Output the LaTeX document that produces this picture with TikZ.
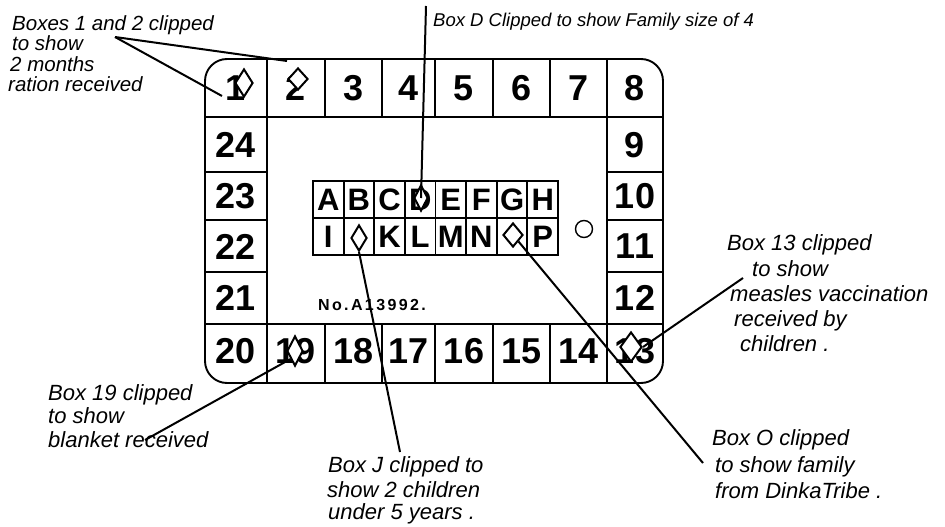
\documentclass[tikz,border=0pt]{standalone}
\usepackage{fontspec}
\setmainfont{Liberation Sans}
\newfontfamily\serialfont[LetterSpace=15]{Liberation Sans}
\usetikzlibrary{shapes.geometric}

\begin{document}
\begin{tikzpicture}[x=1pt,y=-1pt,
  card/.style={line width=1.9pt},
  num/.style={inner sep=0pt, font=\bfseries\fontsize{36}{36}\selectfont},
  letter/.style={inner sep=0pt, font=\bfseries\fontsize{31}{31}\selectfont},
  lbl/.style={anchor=base west, inner sep=0pt, font=\itshape\fontsize{22}{22}\selectfont},
  hole/.style={shape=diamond, draw, fill=white, line width=2pt, inner sep=0pt},
  lead/.style={line width=2pt}]
\useasboundingbox (0,0) rectangle (945,527);

% ration card with the 24 numbered boxes
\draw[card, rounded corners=22] (205,59) rectangle (663,383);
\draw[card] (267,59) -- (267,383) (607,59) -- (607,383) (205,117) -- (663,117) (205,324) -- (663,324);
\draw[card] (325,59) -- (325,117) (382,59) -- (382,117) (435,59) -- (435,117) (493,59) -- (493,117) (550,59) -- (550,117);
\draw[card] (325,324) -- (325,383) (382,324) -- (382,383) (435,324) -- (435,383) (493,324) -- (493,383) (550,324) -- (550,383);
\draw[card] (205,172) -- (267,172) (205,220) -- (267,220) (205,272) -- (267,272);
\draw[card] (607,172) -- (663,172) (607,220) -- (663,220) (607,272) -- (663,272);

\node[num] (n1) at (236,88) {1};
\node[num] (n2) at (296,88) {2};
\node[num] (n3) at (353.5,88) {3};
\node[num] (n4) at (408.5,88) {4};
\node[num] (n5) at (464,88) {5};
\node[num] (n6) at (521.5,88) {6};
\node[num] (n7) at (578.5,88) {7};
\node[num] (n8) at (635,88) {8};
\node[num] (n9) at (635,145) {9};
\node[num] (n10) at (635,196) {10};
\node[num] (n11) at (635,246.5) {11};
\node[num] (n12) at (635,298) {12};
\node[num] (n13) at (635,351) {13};
\node[num] (n14) at (578.5,351) {14};
\node[num] (n15) at (521.5,351) {15};
\node[num] (n16) at (464,351) {16};
\node[num] (n17) at (408.5,351) {17};
\node[num] (n18) at (353.5,351) {18};
\node[num] (n19) at (296,351) {19};
\node[num] (n20) at (236,351) {20};
\node[num] (n21) at (236,298) {21};
\node[num] (n22) at (236,246.5) {22};
\node[num] (n23) at (236,196) {23};
\node[num] (n24) at (236,145) {24};

% letter grid
\draw[card] (313,181) rectangle (558,255) (313,218) -- (558,218);
\draw[card] (343.6,181) -- (343.6,255) (374.3,181) -- (374.3,255) (404.9,181) -- (404.9,255) (435.5,181) -- (435.5,255);
\draw[card] (466.1,181) -- (466.1,255) (496.8,181) -- (496.8,255) (527.4,181) -- (527.4,255);

\node[letter] (cA) at (328.3,199.5) {A};
\node[letter] (cB) at (358.9,199.5) {B};
\node[letter] (cC) at (389.6,199.5) {C};
\node[letter] (cD) at (420.2,199.5) {D};
\node[letter] (cE) at (450.8,199.5) {E};
\node[letter] (cF) at (481.4,199.5) {F};
\node[letter] (cG) at (512.1,199.5) {G};
\node[letter] (cH) at (542.7,199.5) {H};
\node[letter] (cI) at (328.3,236.5) {I};
\node[letter] (cK) at (389.6,236.5) {K};
\node[letter] (cL) at (420.2,236.5) {L};
\node[letter] (cM) at (450.8,236.5) {M};
\node[letter] (cN) at (481.4,236.5) {N};
\node[letter] (cP) at (542.7,236.5) {P};

\node[draw, circle, line width=1.4pt, minimum size=17, inner sep=0pt] (punch) at (584,229) {};
\node[inner sep=0pt, font=\serialfont\bfseries\fontsize{16}{16}\selectfont] (serial) at (372,305) {No.A13992.};

% clipped holes
\node[hole, minimum width=18, minimum height=28] (hole1) at (244,83) {};
\node[hole, minimum width=20, minimum height=22] (hole2) at (298,79) {};
\node[hole, minimum width=16, minimum height=30] (hole19) at (295,351) {};
\node[hole, minimum width=22, minimum height=30] (hole13) at (631,347) {};
\node[hole, minimum width=14, minimum height=26] (holeD) at (421,198) {};
\node[hole, minimum width=16, minimum height=26] (holeJ) at (359,238) {};
\node[hole, minimum width=20, minimum height=24] (holeO) at (513,235) {};

% leader lines
\coordinate (boxesTip) at (115,37);
\coordinate (box1Tip) at (222,96);
\coordinate (box2Tip) at (287,61);
\coordinate (boxDTip) at (426,6);
\coordinate (boxJTip) at (400,452);
\coordinate (boxOTip) at (703,463);
\coordinate (box13Tip) at (743,278);
\coordinate (box19Tip) at (145,440);
\draw[lead] (boxesTip) -- (box2Tip);
\draw[lead] (boxesTip) -- (box1Tip);
\draw[lead] (boxDTip) -- (holeD.center);
\draw[lead] (holeJ.south) -- (boxJTip);
\draw[lead] (holeO.south east) -- (boxOTip);
\draw[lead] (hole13.east) -- (box13Tip);
\draw[lead] (hole19.south west) -- (box19Tip);

% notes
\node[lbl, font=\itshape\fontsize{20.5}{20.5}\selectfont] (boxesL1) at (12,31) {Boxes 1 and 2 clipped};
\node[lbl, font=\itshape\fontsize{20.5}{20.5}\selectfont] (boxesL2) at (12,51) {to show};
\node[lbl, font=\itshape\fontsize{20.5}{20.5}\selectfont] (boxesL3) at (10,72) {2 months};
\node[lbl, font=\itshape\fontsize{20.5}{20.5}\selectfont] (boxesL4) at (8,92) {ration received};
\node[lbl, font=\itshape\fontsize{18.5}{18.5}\selectfont] (boxDL1) at (433,27) {Box D Clipped to show Family size of 4};
\node[lbl] (box13L1) at (727,250) {Box 13 clipped};
\node[lbl] (box13L2) at (752,276) {to show};
\node[lbl] (box13L3) at (730,301) {measles vaccination};
\node[lbl] (box13L4) at (734,326) {received by};
\node[lbl] (box13L5) at (740,351) {children .};
\node[lbl] (box19L1) at (48,400) {Box 19 clipped};
\node[lbl] (box19L2) at (48,423) {to show};
\node[lbl] (box19L3) at (48,447) {blanket received};
\node[lbl] (boxJL1) at (328,472) {Box J clipped to};
\node[lbl] (boxJL2) at (327,497) {show 2 children};
\node[lbl] (boxJL3) at (328,519) {under 5 years .};
\node[lbl] (boxOL1) at (712,445) {Box O clipped};
\node[lbl] (boxOL2) at (715,472) {to show family};
\node[lbl] (boxOL3) at (715,498) {from DinkaTribe .};
\end{tikzpicture}
\end{document}
